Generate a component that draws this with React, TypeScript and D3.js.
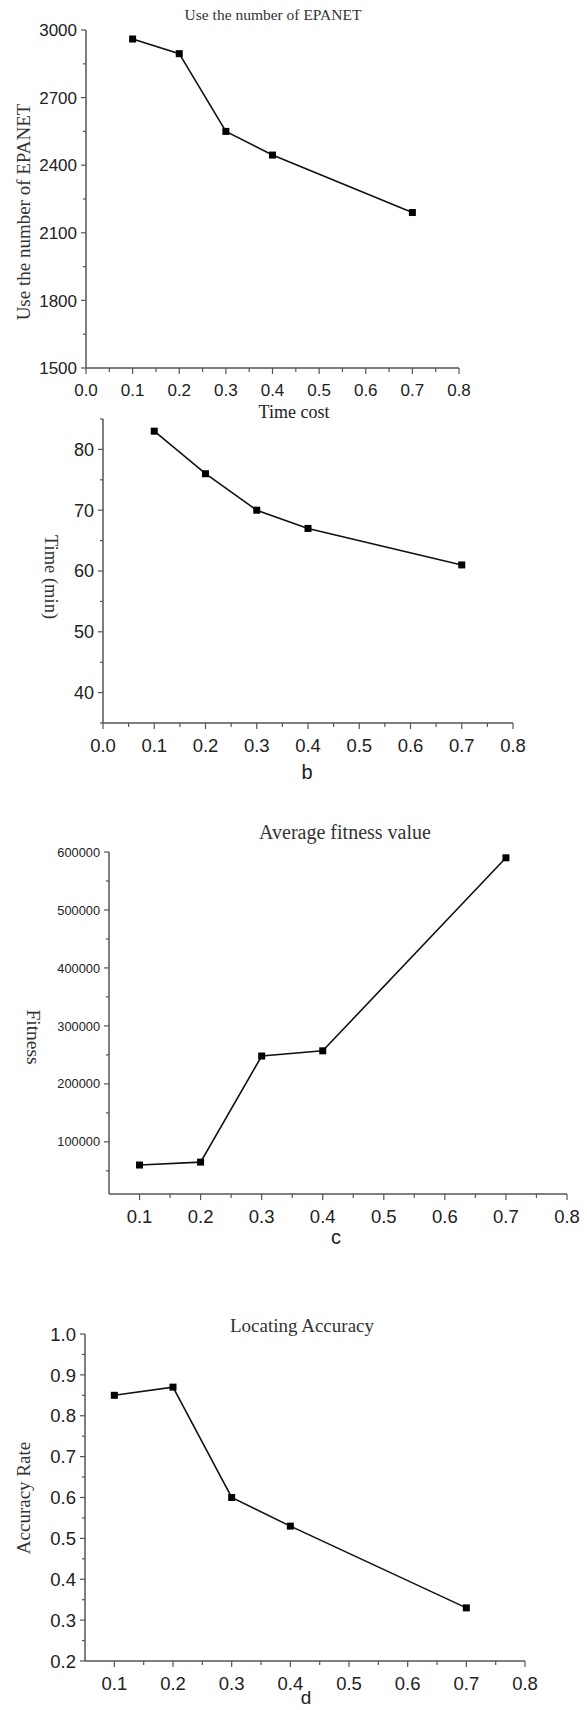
import React from 'react'
import { scaleLinear, line, range } from 'd3'

// ---- data ----
const timeCost = [0.1, 0.2, 0.3, 0.4, 0.7]
const epanetRuns = [2960, 2895, 2550, 2445, 2190]
const timeMin = [83, 76, 70, 67, 61]
const fitness = [60000, 65000, 248000, 257000, 590000]
const accuracy = [0.85, 0.87, 0.6, 0.53, 0.33]

const xTicksFull = [0, 0.1, 0.2, 0.3, 0.4, 0.5, 0.6, 0.7, 0.8]
const xTicksShort = [0.1, 0.2, 0.3, 0.4, 0.5, 0.6, 0.7, 0.8]
const yTicksA = [1500, 1800, 2100, 2400, 2700, 3000]
const yTicksB = [40, 50, 60, 70, 80]
const yTicksC = [100000, 200000, 300000, 400000, 500000, 600000]
const yTicksD = [0.2, 0.3, 0.4, 0.5, 0.6, 0.7, 0.8, 0.9, 1.0]

const SANS = 'Arial, "Liberation Sans", sans-serif'
const SERIF = '"Times New Roman", "Liberation Serif", serif'
const AXIS = '#555'

function Panel({ xs, ys, box, xDomain, yDomain, xTicks, yTicks, xMinor, yMinor, xFmt, yFmt, tickFont, yTickFont, title, ylabel, xlabel }) {
  const x = scaleLinear().domain(xDomain).range([box.left, box.right])
  const y = scaleLinear().domain(yDomain).range([box.bottom, box.top])
  const pts = xs.map((v, i) => [x(v), y(ys[i])])
  const path = line()(pts)
  const yf = yTickFont || tickFont

  return (
    <g>
      {/* axes */}
      <line x1={box.left} x2={box.left} y1={box.top} y2={box.bottom} stroke={AXIS} strokeWidth={1.5} />
      <line x1={box.left} x2={box.right} y1={box.bottom} y2={box.bottom} stroke={AXIS} strokeWidth={1.5} />

      {xMinor.map((t, i) => (
        <line key={'xm' + i} x1={x(t)} x2={x(t)} y1={box.bottom} y2={box.bottom + 4} stroke={AXIS} strokeWidth={1.2} />
      ))}
      {xTicks.map((t, i) => (
        <g key={'x' + i}>
          <line x1={x(t)} x2={x(t)} y1={box.bottom} y2={box.bottom + 6} stroke={AXIS} strokeWidth={1.2} />
          <text x={x(t)} y={box.bottom + 22} dy="0.36em" textAnchor="middle" fontFamily={SANS} fontSize={tickFont} fill="#222">{xFmt(t)}</text>
        </g>
      ))}

      {yMinor.map((t, i) => (
        <line key={'ym' + i} x1={box.left - 3} x2={box.left} y1={y(t)} y2={y(t)} stroke={AXIS} strokeWidth={1.2} />
      ))}
      {yTicks.map((t, i) => (
        <g key={'y' + i}>
          <line x1={box.left - 5} x2={box.left} y1={y(t)} y2={y(t)} stroke={AXIS} strokeWidth={1.2} />
          <text x={box.left - 9} y={y(t)} dy="0.36em" textAnchor="end" fontFamily={SANS} fontSize={yf} fill="#222">{yFmt(t)}</text>
        </g>
      ))}

      <path d={path} fill="none" stroke="#111" strokeWidth={1.6} />
      {pts.map((p, i) => (
        <rect key={'p' + i} x={p[0] - 3.5} y={p[1] - 3.5} width={7} height={7} fill="#000" />
      ))}

      {title && (
        <text x={title.x} y={title.y} textAnchor="middle" dy="0.35em" fontFamily={SERIF} fontSize={title.size} fill="#333">{title.text}</text>
      )}
      {ylabel && (
        <text transform={`translate(${ylabel.x},${ylabel.y}) rotate(${ylabel.rot})`} textAnchor="middle" dy="0.35em"
          fontFamily={SERIF} fontSize={ylabel.size} fill="#333">{ylabel.text}</text>
      )}
      {xlabel && (
        <text x={xlabel.x} y={xlabel.y} textAnchor="middle" dy="0.35em" fontFamily={xlabel.font} fontSize={xlabel.size} fill="#222">{xlabel.text}</text>
      )}
    </g>
  )
}

const f1 = (v) => v.toFixed(1)
const f0 = (v) => String(v)

export default function App() {
  return (
    <svg width={587} height={1710} style={{ position: 'absolute', left: 0, top: 0, background: '#fff' }}>
      <Panel xs={timeCost} ys={epanetRuns}
        box={{ left: 86, right: 459, top: 30, bottom: 368 }}
        xDomain={[0, 0.8]} yDomain={[1500, 3000]}
        xTicks={xTicksFull} yTicks={yTicksA}
        xMinor={range(0.05, 0.8, 0.1)} yMinor={range(1650, 3000, 300)}
        xFmt={f1} yFmt={f0} tickFont={17}
        title={{ text: 'Use the number of EPANET', x: 273, y: 15, size: 15.5 }}
        ylabel={{ text: 'Use the number of EPANET', x: 23, y: 212, rot: -90, size: 19 }}
        xlabel={{ text: 'Time cost', x: 294, y: 412, size: 18, font: SERIF }} />

      <Panel xs={timeCost} ys={timeMin}
        box={{ left: 103, right: 513, top: 419, bottom: 723 }}
        xDomain={[0, 0.8]} yDomain={[35, 85]}
        xTicks={xTicksFull} yTicks={yTicksB}
        xMinor={range(0.05, 0.8, 0.1)} yMinor={range(35, 90, 10)}
        xFmt={f1} yFmt={f0} tickFont={18.5} yTickFont={18}
        ylabel={{ text: 'Time (min)', x: 51, y: 577, rot: 90, size: 18.5 }}
        xlabel={{ text: 'b', x: 307, y: 772, size: 20, font: SANS }} />

      <Panel xs={timeCost} ys={fitness}
        box={{ left: 109, right: 567, top: 852, bottom: 1194 }}
        xDomain={[0.05, 0.8]} yDomain={[10000, 600000]}
        xTicks={xTicksShort} yTicks={yTicksC}
        xMinor={range(0.15, 0.8, 0.1)} yMinor={range(50000, 600000, 100000)}
        xFmt={f1} yFmt={f0} tickFont={18.5} yTickFont={12.8}
        title={{ text: 'Average fitness value', x: 345, y: 832, size: 20 }}
        ylabel={{ text: 'Fitness', x: 34, y: 1037, rot: 90, size: 19.5 }}
        xlabel={{ text: 'c', x: 336, y: 1237, size: 20, font: SANS }} />

      <Panel xs={timeCost} ys={accuracy}
        box={{ left: 85, right: 525, top: 1334, bottom: 1661 }}
        xDomain={[0.05, 0.8]} yDomain={[0.2, 1.0]}
        xTicks={xTicksShort} yTicks={yTicksD}
        xMinor={range(0.15, 0.8, 0.1)} yMinor={range(0.25, 1.0, 0.1)}
        xFmt={f1} yFmt={f1} tickFont={18.5}
        title={{ text: 'Locating Accuracy', x: 302, y: 1325, size: 19 }}
        ylabel={{ text: 'Accuracy Rate', x: 23, y: 1498, rot: -90, size: 19 }}
        xlabel={{ text: 'd', x: 306, y: 1697, size: 19, font: SANS }} />
    </svg>
  )
}
